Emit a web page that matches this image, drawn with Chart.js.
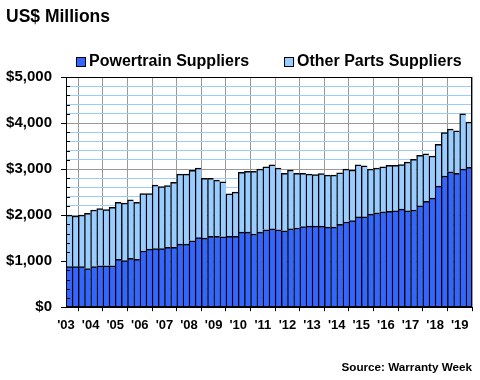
<!DOCTYPE html>
<html>
<head>
<meta charset="utf-8">
<script src="https://cdn.jsdelivr.net/npm/chart.js@4/dist/chart.umd.min.js"></script>
<style>
html,body{margin:0;padding:0;background:#fff;}
#wrap{width:480px;height:380px;}
</style>
</head>
<body>
<div id="wrap"><canvas id="c" width="480" height="380"></canvas></div>
<script>
// ---- data ----
const yearLabels = ["'03","'04","'05","'06","'07","'08","'09","'10","'11","'12","'13","'14","'15","'16","'17","'18","'19"];
const quarterNames = ["Q1","Q2","Q3","Q4"];
const powertrain = [
  880, 880, 880, 840,   880, 900, 900, 900,   1040,1010,1060,1040,  1220,1260,1270,1270,
  1300,1300,1370,1370,  1440,1510,1500,1540,  1540,1530,1540,1540,  1630,1630,1590,1630,
  1680,1700,1680,1660,  1700,1720,1750,1760,  1760,1760,1740,1740,  1800,1850,1880,1960,
  1960,2020,2050,2070,  2080,2090,2130,2090,  2110,2200,2300,2370,  2630,2850,2940,2910,
  3000,3040
];
const otherParts = [
  1120,1100,1120,1200,  1230,1240,1220,1270,  1240,1250,1270,1240,  1250,1210,1380,1350,
  1340,1410,1520,1520,  1530,1510,1300,1260,  1220,1190, 920, 960,  1300,1320,1360,1370,
  1370,1390,1340,1250,  1280,1190,1160,1130,  1120,1140,1130,1130,  1120,1150,1100,1130,
  1110, 980, 970, 980,  1000, 990, 970,1060,  1100,1100,1030, 910,   910, 940, 930, 920,
  1200, 980
];
const seriesNames = ["Powertrain Suppliers", "Other Parts Suppliers"];
const seriesColors = ["#3366ff", "#99ccff"];
const titleText = "US$ Millions";
const sourceText = "Source: Warranty Week";

// category labels (one per quarter)
const categories = [];
for (let i = 0; i < powertrain.length; i++) {
  categories.push(yearLabels[Math.floor(i / 4)] + " " + quarterNames[i % 4]);
}

const FONT = "'Liberation Sans', Arial, Helvetica, sans-serif";

// frame + inner minor ticks
const framePlugin = {
  id: 'frame',
  afterDatasetsDraw(chart) {
    const {ctx, chartArea: a, scales: {y}} = chart;
    ctx.save();
    ctx.strokeStyle = '#000';
    ctx.lineWidth = 1;
    y.ticks.forEach(t => {
      if (t.value % 1000 !== 0) {
        const py = Math.round(y.getPixelForValue(t.value)) + 0.5;
        ctx.beginPath();
        ctx.moveTo(a.left, py);
        ctx.lineTo(a.left + 4, py);
        ctx.stroke();
      }
    });
    ctx.strokeRect(Math.round(a.left) + 0.5, Math.round(a.top) + 0.5,
                   Math.round(a.right - a.left) - 1, Math.round(a.bottom - a.top) - 1);
    ctx.restore();
  }
};

// legend row (box + label), centred over the plot area
const legendPlugin = {
  id: 'legendRow',
  afterDraw(chart) {
    const {ctx, chartArea: a} = chart;
    const ds = chart.data.datasets;
    ctx.save();
    ctx.font = 'bold 16px ' + FONT;
    ctx.textBaseline = 'middle';
    ctx.textAlign = 'left';
    const box = 10, gapText = 3, gapItem = 35;
    const widths = ds.map(d => box + gapText + ctx.measureText(d.label).width);
    const total = widths.reduce((s, w) => s + w, 0) + gapItem * (ds.length - 1);
    let x = Math.round((a.left + a.right) / 2 - total / 2);
    const cy = Math.round(a.top) - 15.5;
    const by = Math.round(cy - 5);
    ds.forEach((d, i) => {
      ctx.fillStyle = d.backgroundColor;
      ctx.fillRect(x, by, box, box);
      ctx.strokeStyle = '#000';
      ctx.lineWidth = 1;
      ctx.strokeRect(x + 0.5, by + 0.5, box - 1, box - 1);
      ctx.fillStyle = '#000';
      ctx.fillText(d.label, x + box + gapText, cy + 0.5);
      x += widths[i] + gapItem;
    });
    ctx.restore();
  }
};

new Chart(document.getElementById('c'), {
  type: 'bar',
  data: {
    labels: categories,
    datasets: [
      {
        label: seriesNames[0],
        data: powertrain,
        backgroundColor: seriesColors[0],
        borderColor: '#000',
        borderWidth: {top: 1.5, left: 1.4, right: 0, bottom: 0},
        borderSkipped: false,
        categoryPercentage: 1,
        barPercentage: 1
      },
      {
        label: seriesNames[1],
        data: otherParts,
        backgroundColor: seriesColors[1],
        borderColor: '#000',
        borderWidth: {top: 1.5, left: 1.4, right: 0, bottom: 0},
        borderSkipped: false,
        categoryPercentage: 1,
        barPercentage: 1
      }
    ]
  },
  options: {
    responsive: false,
    devicePixelRatio: 1,
    animation: false,
    layout: {padding: {left: 6, right: 8, top: 3, bottom: 0}},
    plugins: {
      tooltip: {enabled: false},
      legend: {display: false},
      title: {
        display: true,
        text: titleText,
        align: 'start',
        color: '#000',
        font: {family: FONT, size: 17.5, weight: 'bold', lineHeight: 1.2},
        padding: {top: 4, bottom: 49}
      },
      subtitle: {
        display: true,
        text: sourceText,
        position: 'bottom',
        align: 'end',
        color: '#000',
        font: {family: FONT, size: 11.7, weight: 'bold'},
        padding: {top: 13.8, bottom: 5}
      }
    },
    scales: {
      x: {
        type: 'category',
        stacked: true,
        display: false
      },
      x2: {
        type: 'linear',
        position: 'bottom',
        min: 0,
        max: categories.length,
        offset: false,
        afterFit(scale) { scale.height = 40; },
        ticks: {
          stepSize: 4,
          includeBounds: false,
          autoSkip: false,
          maxRotation: 0,
          minRotation: 0,
          padding: 6,
          color: '#000',
          font: {family: FONT, size: 13, weight: 'bold'},
          callback: (v) => (v % 4 === 0 && yearLabels[v / 4] !== undefined) ? yearLabels[v / 4] : ''
        },
        grid: {
          color: '#999999',
          lineWidth: 1,
          tickLength: 4,
          tickColor: '#000'
        },
        border: {color: '#000', width: 1}
      },
      y: {
        stacked: true,
        min: 0,
        max: 5000,
        afterFit(scale) { scale.width = 60; },
        ticks: {
          stepSize: 200,
          autoSkip: false,
          padding: 9,
          color: '#000',
          font: {family: FONT, size: 15, weight: 'bold'},
          callback: (v) => (v % 1000 === 0) ? '$' + v.toLocaleString('en-US') : ''
        },
        grid: {
          color: (c) => (c.tick && c.tick.value % 1000 === 0) ? '#999999' : '#99ccff',
          lineWidth: 1,
          tickLength: 5,
          tickColor: (c) => (c.tick && c.tick.value % 1000 === 0) ? '#000' : 'rgba(0,0,0,0)'
        },
        border: {color: '#000', width: 1}
      }
    }
  },
  plugins: [framePlugin, legendPlugin]
});
</script>
</body>
</html>
